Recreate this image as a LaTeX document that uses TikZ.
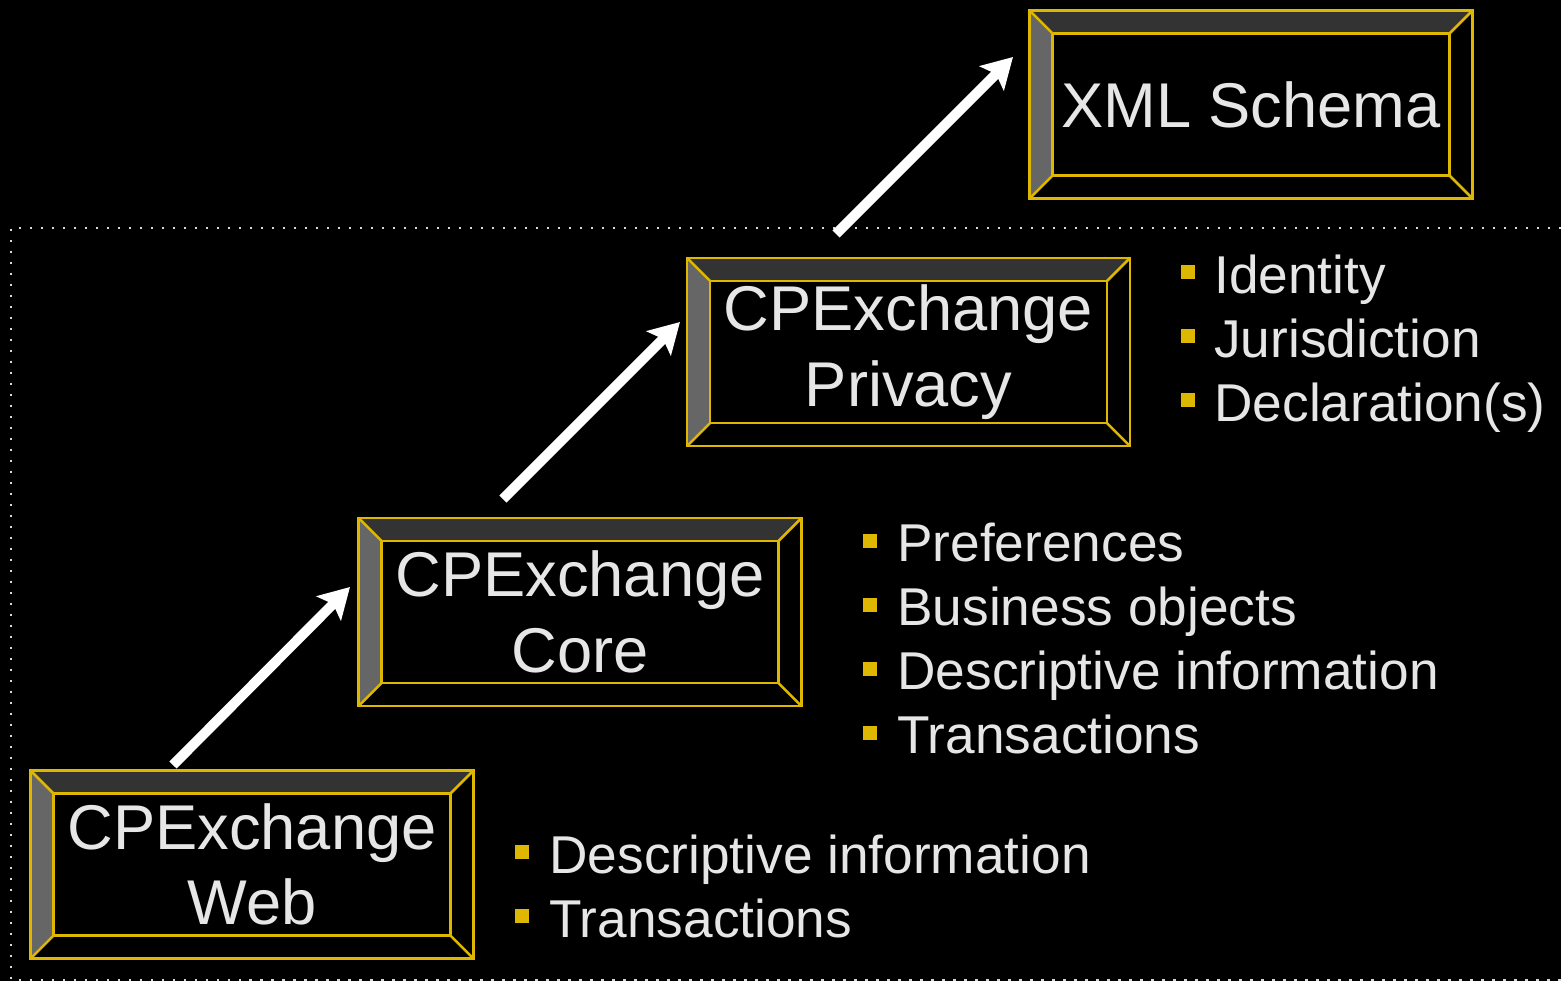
\documentclass[tikz,border=0pt]{standalone}
\usepackage{fontspec}
\setmainfont{Liberation Sans}
\usetikzlibrary{arrows.meta}

\definecolor{gold}{RGB}{222,184,0}
\definecolor{bevtop}{RGB}{51,51,51}
\definecolor{bevleft}{RGB}{102,102,102}
\definecolor{txt}{RGB}{230,230,230}

% bevelled frame round a named box node
\newcommand{\bevel}[1]{%
  \fill[bevtop] (#1.north west) -- (#1.north east) -- ([shift={(-23,23)}]#1.north east) -- ([shift={(23,23)}]#1.north west) -- cycle;
  \fill[bevleft] (#1.north west) -- ([shift={(23,23)}]#1.north west) -- ([shift={(23,-23)}]#1.south west) -- (#1.south west) -- cycle;
  \draw[goldline] (#1.north west) rectangle (#1.south east);
  \draw[goldline] ([shift={(23,23)}]#1.north west) rectangle ([shift={(-23,-23)}]#1.south east);
  \draw[goldline] (#1.north west) -- ++(23,23) (#1.north east) -- ++(-23,23)
                  (#1.south west) -- ++(23,-23) (#1.south east) -- ++(-23,-23);
}

\begin{document}
\begin{tikzpicture}[x=0.02cm, y=-0.02cm,
    box/.style={minimum width=8.84cm, minimum height=3.74cm, inner sep=0pt,
                text=txt, align=center, font=\fontsize{36}{43}\selectfont},
    item/.style={anchor=base west, inner sep=0pt, text=txt, font=\fontsize{30.3}{36}\selectfont},
    bullet/.style={fill=gold, inner sep=0pt, minimum size=0.28cm},
    goldline/.style={gold, line width=0.05cm},
    arrow/.style={white, line width=0.2cm, -{Stealth[length=0.6cm, width=0.68cm, inset=0.12cm]}},
    dotline/.style={white!85!black, line width=0.05cm, dash pattern=on 0.05cm off 0.17cm}]

    \useasboundingbox (0,0) rectangle (1561,981);
    \fill[black] (0,0) rectangle (1561,981);

    \draw[dotline] (1561,228) -- (11,228) -- (11,980) -- (1561,980);

    \node[box] (xml) at (1251,104.5) {XML Schema};
    \bevel{xml}
    \node[box] (privacy) at (908.5,352) {CPExchange\\Privacy};
    \bevel{privacy}
    \node[box] (core) at (580,612) {CPExchange\\Core};
    \bevel{core}
    \node[box] (web) at (252,864.5) {CPExchange\\Web};
    \bevel{web}

    \coordinate (w1) at (173,765);
    \coordinate (c1) at (350,587);
    \coordinate (c2) at (503,499);
    \coordinate (p1) at (680,322);
    \coordinate (p2) at (836,234);
    \coordinate (x1) at (1013,57);

    \draw[arrow] (w1) -- (c1);
    \draw[arrow] (c2) -- (p1);
    \draw[arrow] (p2) -- (x1);

    % privacy list
    \node[bullet] (pb1) at (1188,272) {};
    \node[item] (pi1) at (1214,293) {Identity};
    \node[bullet] (pb2) at (1188,336) {};
    \node[item] (pi2) at (1214,357) {Jurisdiction};
    \node[bullet] (pb3) at (1188,400) {};
    \node[item] (pi3) at (1214,421) {Declaration(s)};

    % core list
    \node[bullet] (cb1) at (870,541) {};
    \node[item] (ci1) at (897,561) {Preferences};
    \node[bullet] (cb2) at (870,605) {};
    \node[item] (ci2) at (897,625) {Business objects};
    \node[bullet] (cb3) at (870,669) {};
    \node[item] (ci3) at (897,689) {Descriptive information};
    \node[bullet] (cb4) at (870,733) {};
    \node[item] (ci4) at (897,753) {Transactions};

    % web list
    \node[bullet] (wb1) at (522,852) {};
    \node[item] (wi1) at (549,873) {Descriptive information};
    \node[bullet] (wb2) at (522,916) {};
    \node[item] (wi2) at (549,937) {Transactions};
\end{tikzpicture}
\end{document}
